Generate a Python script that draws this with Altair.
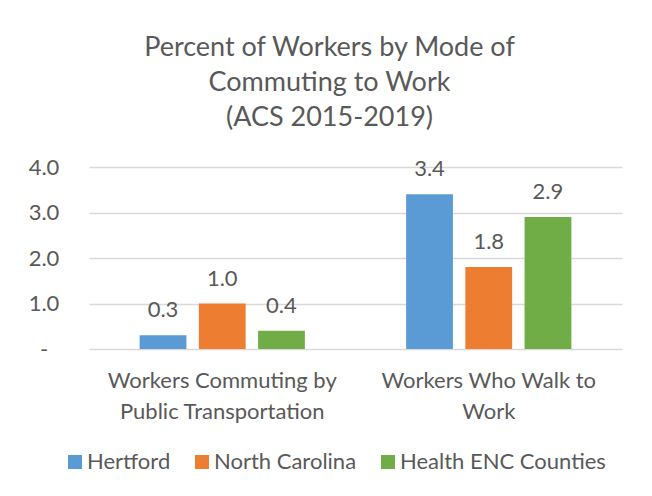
import altair as alt
import pandas as pd

categories = ["Workers Commuting by|Public Transportation", "Workers Who Walk to|Work"]
series = ["Hertford", "North Carolina", "Health ENC Counties"]
colors = ["#5B9BD5", "#ED7D31", "#70AD47"]
hertford = [0.3, 3.4]
north_carolina = [1.0, 1.8]
health_enc = [0.4, 2.9]

rows = []
for i, c in enumerate(categories):
    for s, vals in zip(series, [hertford, north_carolina, health_enc]):
        rows.append({"category": c, "series": s, "value": vals[i]})
df = pd.DataFrame(rows)

FONT = "Lato"
TXT = "#595959"
FS = 22

x = alt.X("category:N", sort=categories, title=None,
          scale=alt.Scale(paddingInner=0.38, paddingOuter=0.19),
          axis=alt.Axis(labelExpr="split(datum.label, '|')", labelAngle=0,
                        labelFontSize=FS, labelColor=TXT, labelFont=FONT,
                        labelLineHeight=31, labelPadding=21, ticks=False,
                        domain=False, grid=False, labelBaseline="top", labelLimit=0))
xo = alt.XOffset("series:N", sort=series, scale=alt.Scale(paddingInner=0.21, paddingOuter=0))
y = alt.Y("value:Q", title=None,
          scale=alt.Scale(domain=[0, 4], nice=False),
          axis=alt.Axis(values=[0, 1, 2, 3, 4],
                        labelExpr="datum.value == 0 ? '-' : format(datum.value, '.1f')",
                        labelFontSize=FS, labelColor=TXT, labelFont=FONT,
                        labelAlign="center", labelPadding=45.5, ticks=False,
                        domain=False, grid=True, gridColor="#D9D9D9", gridWidth=1.3))

bars = alt.Chart(df).mark_bar().encode(
    x=x, xOffset=xo, y=y,
    color=alt.Color("series:N", sort=series,
                    scale=alt.Scale(domain=series, range=colors),
                    legend=alt.Legend(title=None, orient="none", direction="horizontal",
                                      legendX=-25, legendY=284,
                                      symbolType="square", symbolSize=196,
                                      symbolStrokeWidth=0, labelFontSize=FS,
                                      labelColor=TXT, labelFont=FONT, labelLimit=0,
                                      labelOffset=1, columnPadding=20)),
)

labels = alt.Chart(df).mark_text(baseline="alphabetic", dy=-18, fontSize=FS,
                                 color=TXT, font=FONT).encode(
    x=alt.X("category:N", sort=categories), xOffset=alt.XOffset("series:N", sort=series),
    y="value:Q", text=alt.Text("value:Q", format=".1f"))

chart = alt.layer(bars, labels).properties(
    width=533, height=182,
    background="white",
    autosize=alt.AutoSizeParams(type="none"),
    padding={"left": 81, "top": 159, "right": 20, "bottom": 130},
    title=alt.TitleParams(
        ["Percent of Workers by Mode of", "Commuting to Work", "(ACS 2015-2019)"],
        fontSize=27, font=FONT, fontWeight="normal", color=TXT,
        lineHeight=35, anchor="middle", dx=-26, offset=24),
).configure_view(strokeWidth=0)

chart.save("out.html", embed_options={"renderer": "svg", "actions": False})
